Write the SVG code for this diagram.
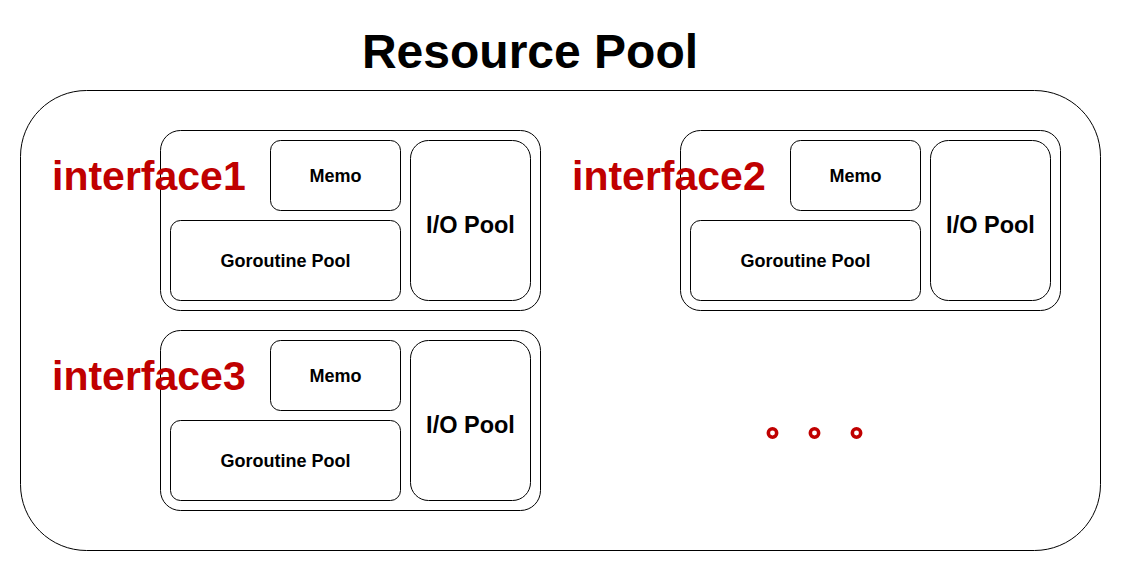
<svg xmlns="http://www.w3.org/2000/svg" width="1121" height="571" viewBox="0 0 1121 571">
<style>
.box{fill:#fff;stroke:#000;stroke-width:1}
.t{font-family:"Liberation Sans",Arial,sans-serif;font-weight:bold;text-anchor:middle;fill:#000}
.s{font-size:18px}
.io{font-size:23.5px}
.lbl{font-family:"Liberation Sans",Arial,sans-serif;font-weight:bold;font-size:41px;fill:#c00000}
.dot{fill:#fff;stroke:#c00000;stroke-width:3.5}
</style>
<rect width="1121" height="571" fill="#fff"/>
<text class="t" x="530" y="68" font-size="48">Resource Pool</text>
<g id="resource-pool">
<rect class="box" x="20.5" y="90.5" width="1080" height="460" rx="66" ry="66"/>
</g>
<g id="interface1">
<rect class="box" x="160.5" y="130.5" width="380" height="180" rx="20"/>
<rect class="box" x="270.5" y="140.5" width="130" height="70" rx="10"/>
<text class="t s" x="335.5" y="182">Memo</text>
<rect class="box" x="170.5" y="220.5" width="230" height="80" rx="10"/>
<text class="t s" x="285.5" y="267">Goroutine Pool</text>
<rect class="box" x="410.5" y="140.5" width="120" height="160" rx="18"/>
<text class="t io" x="470.5" y="233">I/O Pool</text>
<text class="lbl" x="52" y="190">interface1</text>
</g>
<g id="interface2">
<rect class="box" x="680.5" y="130.5" width="380" height="180" rx="20"/>
<rect class="box" x="790.5" y="140.5" width="130" height="70" rx="10"/>
<text class="t s" x="855.5" y="182">Memo</text>
<rect class="box" x="690.5" y="220.5" width="230" height="80" rx="10"/>
<text class="t s" x="805.5" y="267">Goroutine Pool</text>
<rect class="box" x="930.5" y="140.5" width="120" height="160" rx="18"/>
<text class="t io" x="990.5" y="233">I/O Pool</text>
<text class="lbl" x="572" y="190">interface2</text>
</g>
<g id="interface3">
<rect class="box" x="160.5" y="330.5" width="380" height="180" rx="20"/>
<rect class="box" x="270.5" y="340.5" width="130" height="70" rx="10"/>
<text class="t s" x="335.5" y="382">Memo</text>
<rect class="box" x="170.5" y="420.5" width="230" height="80" rx="10"/>
<text class="t s" x="285.5" y="467">Goroutine Pool</text>
<rect class="box" x="410.5" y="340.5" width="120" height="160" rx="18"/>
<text class="t io" x="470.5" y="433">I/O Pool</text>
<text class="lbl" x="52" y="390">interface3</text>
</g>
<g id="ellipsis">
<circle class="dot" cx="772.5" cy="433" r="4.2"/>
<circle class="dot" cx="814.5" cy="433" r="4.2"/>
<circle class="dot" cx="856.5" cy="433" r="4.2"/>
</g>
<g id="connectors"></g>
</svg>
